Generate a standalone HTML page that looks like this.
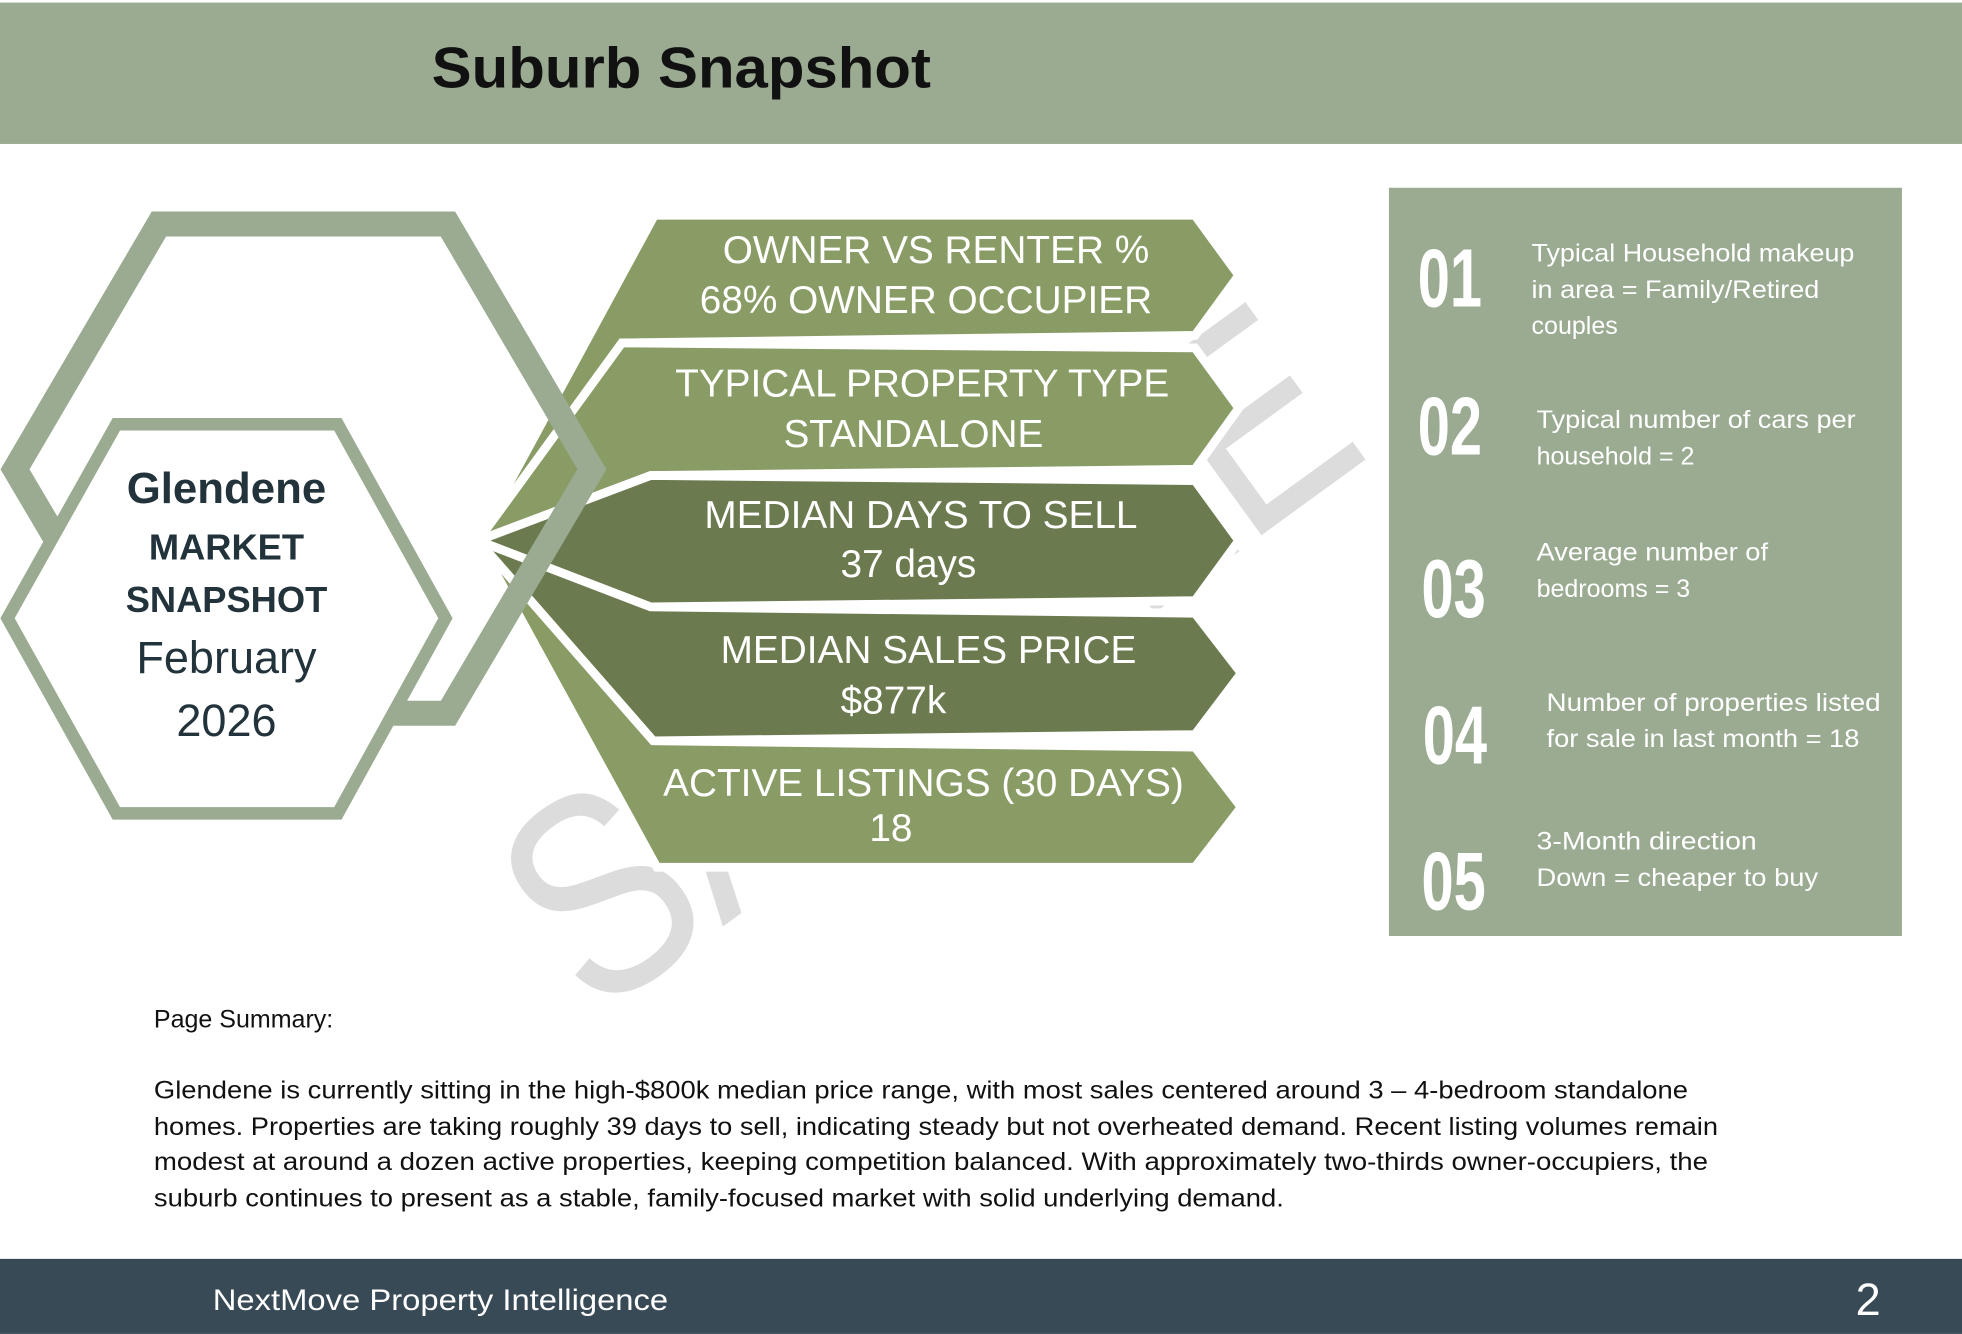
<!DOCTYPE html>
<html><head><meta charset="utf-8"><style>
html,body{margin:0;padding:0;background:#fff;}
svg{display:block;}
text{font-family:"Liberation Sans",sans-serif;}
</style></head><body>
<svg width="1962" height="1334" viewBox="0 0 1568 1066" xmlns="http://www.w3.org/2000/svg">
<rect x="0" y="0" width="1568" height="1066" fill="#fff"/>
<rect x="0" y="2" width="1568" height="113" fill="#9aab92"/>
<text x="345" y="70" font-size="46" font-weight="bold" fill="#111" textLength="399" lengthAdjust="spacingAndGlyphs">Suburb Snapshot</text>

<!-- watermark -->
<text x="0" y="0" font-size="230" fill="#dcdcdc" transform="translate(475,815) rotate(-36)" textLength="770" lengthAdjust="spacingAndGlyphs">SAMPLE</text>

<!-- banners -->
<g stroke="#fff" stroke-width="7" stroke-linejoin="miter">
<polygon points="382,432 523,172 955,172 990,220 955,268 497,274" fill="#8a9c66"/>
<polygon points="382,432 497,274 955,278 990,326 955,375 520,380" fill="#8a9c66"/>
<polygon points="382,432 520,380 955,384 990,432 955,480 520,485" fill="#6b7a4f"/>
<polygon points="382,432 520,485 955,490 992,538 955,587 522,592" fill="#6b7a4f"/>
<polygon points="382,432 522,592 955,597 992,645 955,693 525,693" fill="#8a9c66"/>
</g>
<g fill="#fff" font-size="31" text-anchor="middle">
<text x="748" y="210">OWNER VS RENTER %</text>
<text x="740" y="250">68% OWNER OCCUPIER</text>
<text x="737" y="317">TYPICAL PROPERTY TYPE</text>
<text x="730" y="357">STANDALONE</text>
<text x="736" y="422">MEDIAN DAYS TO SELL</text>
<text x="726" y="461">37 days</text>
<text x="742" y="530">MEDIAN SALES PRICE</text>
<text x="714" y="570">$877k</text>
<text x="738" y="636">ACTIVE LISTINGS (30 DAYS)</text>
<text x="712" y="672">18</text>
</g>

<!-- big hex -->
<polygon points="127,179 358,179 473,375 358,570 127,570 12,375" fill="none" stroke="#9aab92" stroke-width="20"/>
<!-- small hex -->
<polygon points="93,339 270,339 356,494 270,650 93,650 6,494" fill="#fff" stroke="#9aab92" stroke-width="10"/>
<g fill="#22333b" text-anchor="middle">
<text x="181" y="402" font-size="35" font-weight="bold">Glendene</text>
<text x="181" y="447" font-size="29" font-weight="bold">MARKET</text>
<text x="181" y="489" font-size="29" font-weight="bold">SNAPSHOT</text>
<text x="181" y="538" font-size="36">February</text>
<text x="181" y="588" font-size="36">2026</text>
</g>

<!-- right panel -->
<rect x="1110" y="150" width="410" height="598" fill="#9aab92"/>
<g fill="#fff" font-size="66" font-weight="bold">
<text transform="translate(1133,245) scale(0.7,1)">01</text>
<text transform="translate(1133,363) scale(0.7,1)">02</text>
<text transform="translate(1136,493) scale(0.7,1)">03</text>
<text transform="translate(1137,610) scale(0.7,1)">04</text>
<text transform="translate(1136,727) scale(0.7,1)">05</text>
</g>
<g fill="#fff" font-size="20">
<text x="1224" y="209" textLength="258" lengthAdjust="spacingAndGlyphs">Typical Household makeup</text>
<text x="1224" y="238" textLength="230" lengthAdjust="spacingAndGlyphs">in area = Family/Retired</text>
<text x="1224" y="267">couples</text>
<text x="1228" y="342" textLength="255" lengthAdjust="spacingAndGlyphs">Typical number of cars per</text>
<text x="1228" y="371">household = 2</text>
<text x="1228" y="448" textLength="185" lengthAdjust="spacingAndGlyphs">Average number of</text>
<text x="1228" y="477">bedrooms = 3</text>
<text x="1236" y="568" textLength="267" lengthAdjust="spacingAndGlyphs">Number of properties listed</text>
<text x="1236" y="597" textLength="250" lengthAdjust="spacingAndGlyphs">for sale in last month = 18</text>
<text x="1228" y="679" textLength="176" lengthAdjust="spacingAndGlyphs">3-Month direction</text>
<text x="1228" y="708" textLength="225" lengthAdjust="spacingAndGlyphs">Down = cheaper to buy</text>
</g>

<!-- summary -->
<g fill="#111" font-size="20">
<text x="123" y="821">Page Summary:</text>
<text x="123" y="878" textLength="1226" lengthAdjust="spacingAndGlyphs">Glendene is currently sitting in the high-$800k median price range, with most sales centered around 3 – 4-bedroom standalone</text>
<text x="123" y="907" textLength="1250" lengthAdjust="spacingAndGlyphs">homes. Properties are taking roughly 39 days to sell, indicating steady but not overheated demand. Recent listing volumes remain</text>
<text x="123" y="935" textLength="1242" lengthAdjust="spacingAndGlyphs">modest at around a dozen active properties, keeping competition balanced. With approximately two-thirds owner-occupiers, the</text>
<text x="123" y="964" textLength="903" lengthAdjust="spacingAndGlyphs">suburb continues to present as a stable, family-focused market with solid underlying demand.</text>
</g>

<!-- footer -->
<rect x="0" y="1006" width="1568" height="60" fill="#384a56"/>
<text x="170" y="1047" font-size="24" fill="#fff" textLength="364" lengthAdjust="spacingAndGlyphs">NextMove Property Intelligence</text>
<text x="1483" y="1051" font-size="36" fill="#fff">2</text>
</svg>
</body></html>
